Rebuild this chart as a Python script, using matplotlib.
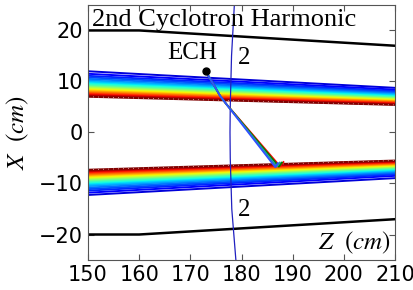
import matplotlib
matplotlib.use("Agg")
import matplotlib.pyplot as plt
import numpy as np

plt.rcParams["mathtext.fontset"] = "stix"

# ================= DATA =================
# vessel wall (top / bottom)
wall_z = [150, 160, 210]
wall_top = [20.0, 20.0, 17.0]
wall_bot = [-20.0, -20.0, -17.0]

# flux surfaces, inner (red) -> outer (blue), X at Z=150 and Z=210
surf_z = [150, 210]
up_z150 = [7.0, 7.15, 7.3, 7.45, 7.6, 7.75, 7.9, 8.05, 8.2, 8.35, 8.5, 8.65, 8.8,
           8.95, 9.1, 9.3, 9.5, 9.7, 9.95, 10.2, 10.5, 10.8, 11.1, 11.5, 12.0]
up_z210 = [5.4, 5.5, 5.6, 5.7, 5.8, 5.9, 6.0, 6.1, 6.2, 6.3, 6.4, 6.5, 6.6,
           6.7, 6.8, 6.93, 7.07, 7.2, 7.37, 7.53, 7.73, 7.93, 8.13, 8.4, 8.75]
lo_z150 = [-7.3, -7.45, -7.6, -7.75, -7.9, -8.05, -8.2, -8.35, -8.5, -8.65, -8.8, -8.95, -9.1,
           -9.25, -9.4, -9.6, -9.8, -10.0, -10.25, -10.5, -10.8, -11.1, -11.4, -11.8, -12.25]
lo_z210 = [-5.5, -5.6, -5.7, -5.8, -5.9, -6.0, -6.1, -6.2, -6.3, -6.4, -6.5, -6.6, -6.7,
           -6.8, -6.9, -7.03, -7.17, -7.3, -7.47, -7.63, -7.83, -8.03, -8.23, -8.5, -8.95]

# 2nd harmonic resonance
res_x = [25, 15, 5, 0, -5, -15, -25]
res_z = [178.6, 178.05, 177.8, 177.75, 177.8, 178.1, 178.9]

# ECH launcher + rays
ech_z, ech_x = 173.0, 12.0
ray_z = [
    [173.0, 174.0, 175.0, 175.8, 177.0, 187.5, 188.2],
    [173.0, 174.0, 175.0, 175.8, 177.0, 187.3, 187.9],
    [173.0, 174.0, 175.0, 175.8, 177.0, 186.9, 187.5],
    [173.0, 174.0, 175.0, 175.8, 177.0, 186.6, 187.1],
]
ray_x = [
    [12.0, 10.3, 8.6, 7.2, 5.6, -6.6, -5.8],
    [12.0, 10.3, 8.6, 7.2, 5.6, -6.7, -5.9],
    [12.0, 10.3, 8.6, 7.2, 5.6, -6.7, -5.9],
    [12.0, 10.3, 8.6, 7.2, 5.6, -6.8, -6.0],
]
ray_colors = ["red", "green", "#1f9f9f", "#3050ff"]

# ================= FIGURE =================
fig = plt.figure(figsize=(4.14, 2.9), dpi=100)
ax = fig.add_axes([0.2126, 0.1034, 0.7415, 0.8796])

cmap = plt.get_cmap("jet")
n = len(up_z150)
for i in range(n - 1, -1, -1):
    c = cmap(1.0 - 0.92 * i / (n - 1))
    ax.plot(surf_z, [up_z150[i], up_z210[i]], color=c, lw=1.4)
    ax.plot(surf_z, [lo_z150[i], lo_z210[i]], color=c, lw=1.4)

# dotted line on the last closed surface
ax.plot(surf_z, [up_z150[0], up_z210[0]], color="#f0c0c0", lw=0.6, ls=(0, (1, 5)))
ax.plot(surf_z, [lo_z150[0], lo_z210[0]], color="#f0c0c0", lw=0.6, ls=(0, (1, 5)))

ax.plot(wall_z, wall_top, color="black", lw=1.8)
ax.plot(wall_z, wall_bot, color="black", lw=1.8)

ax.plot(res_z, res_x, color="#2020c0", lw=0.9)

for zz, xx, c in zip(ray_z, ray_x, ray_colors):
    ax.plot(zz, xx, color=c, lw=1.3)

ax.plot([ech_z], [ech_x], "o", color="black", ms=5)

ax.text(ech_z - 7.6, ech_x + 1.4, "ECH", family="Liberation Serif", fontsize=18,
        ha="left", va="bottom")
ax.text(179.2, 12.4, "2", family="Liberation Serif", fontsize=18, ha="left", va="bottom")
ax.text(179.2, -17.4, "2", family="Liberation Serif", fontsize=18, ha="left", va="bottom")
ax.text(0.012, 0.985, "2nd Cyclotron Harmonic", transform=ax.transAxes,
        family="Liberation Serif", fontsize=19, ha="left", va="top")
ax.text(0.985, 0.015, r"$Z\ \ (cm)$", transform=ax.transAxes, fontsize=18,
        ha="right", va="bottom")

ax.set_ylabel(r"$X\ \ (cm)$", fontsize=18, labelpad=6)

ax.set_xlim(150, 210)
ax.set_ylim(-25, 25)
ax.set_xticks([150, 160, 170, 180, 190, 200, 210])
ax.set_yticks([-20, -10, 0, 10, 20])
ax.tick_params(direction="in", top=True, right=True, labelsize=15, length=4,
               color="#555555")
for s in ax.spines.values():
    s.set_color("#555555")

fig.savefig("out.png", dpi=100)
